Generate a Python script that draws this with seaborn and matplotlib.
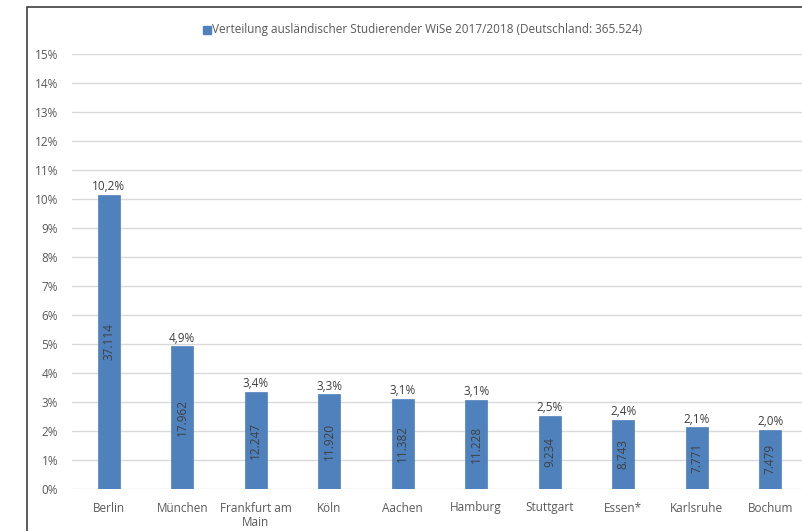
import matplotlib
matplotlib.use("Agg")
import matplotlib.pyplot as plt
from matplotlib.patches import Rectangle
from matplotlib.ticker import MultipleLocator, FuncFormatter
import seaborn as sns
import pandas as pd

# Foreign students by university town, winter semester 2017/2018
cities = ["Berlin", "München", "Frankfurt am\nMain", "Köln", "Aachen",
          "Hamburg", "Stuttgart", "Essen*", "Karlsruhe", "Bochum"]
students = [37114, 17962, 12247, 11920, 11382, 11228, 9234, 8743, 7771, 7479]
total_germany = 365524
legend_label = "Verteilung ausländischer Studierender WiSe 2017/2018 (Deutschland: 365.524)"

share = [s / total_germany * 100 for s in students]
df = pd.DataFrame({"Stadt": cities, "Anteil": share, "Studierende": students})

sns.set_theme(style="white")
plt.rcParams["font.family"] = ["Open Sans", "DejaVu Sans"]

W, H = 803, 531
FS = 8.5
fig = plt.figure(figsize=(W / 100, H / 100), dpi=100)

# outer chart frame (open at right and bottom)
fig.patches.append(Rectangle((27 / W, -0.1), 1.2, (H - 7) / H + 0.1,
                             transform=fig.transFigure, fill=False,
                             edgecolor="#404040", linewidth=1.2))

ax_left, ax_right = 72, 807
ax_top, ax_bottom = 54, 489
ax = fig.add_axes([ax_left / W, 1 - ax_bottom / H,
                   (ax_right - ax_left) / W, (ax_bottom - ax_top) / H])

bar_color = "#4F81BD"
sns.barplot(data=df, x="Stadt", y="Anteil", color=bar_color, width=0.3,
            ax=ax, saturation=1, edgecolor=bar_color, linewidth=0.5)

ax.set_ylim(0, 15)
ax.set_xlim(-0.5, 9.5)
ax.yaxis.set_major_locator(MultipleLocator(1))
ax.yaxis.set_major_formatter(FuncFormatter(lambda v, p: f"{v:.0f}%"))
ax.grid(axis="y", color="#d9d9d9", linewidth=1)
ax.set_axisbelow(True)
for s in ax.spines.values():
    s.set_visible(False)
ax.set_xlabel("")
ax.set_ylabel("")
ax.tick_params(axis="both", length=0, labelsize=FS, labelcolor="#595959")
ax.tick_params(axis="y", pad=10)
ax.tick_params(axis="x", pad=9)
for lbl in ax.get_xticklabels():
    lbl.set_linespacing(1.2)

for i, (p, n) in enumerate(zip(share, students)):
    ax.text(i, p + 0.05, f"{p:.1f}%".replace(".", ","), ha="center", va="bottom",
            fontsize=FS, color="#404040")
    ax.text(i, p / 2, f"{n:,}".replace(",", "."), ha="center", va="center",
            rotation=90, fontsize=FS, color="#404040")

# legend entry above the plot
fig.patches.append(Rectangle((203 / W, 1 - 34 / H), 8 / W, 8 / H,
                             transform=fig.transFigure, color=bar_color))
fig.text(212 / W, 1 - 30 / H, legend_label, ha="left", va="center",
         fontsize=FS, color="#595959")

fig.savefig("out.png", dpi=100)
